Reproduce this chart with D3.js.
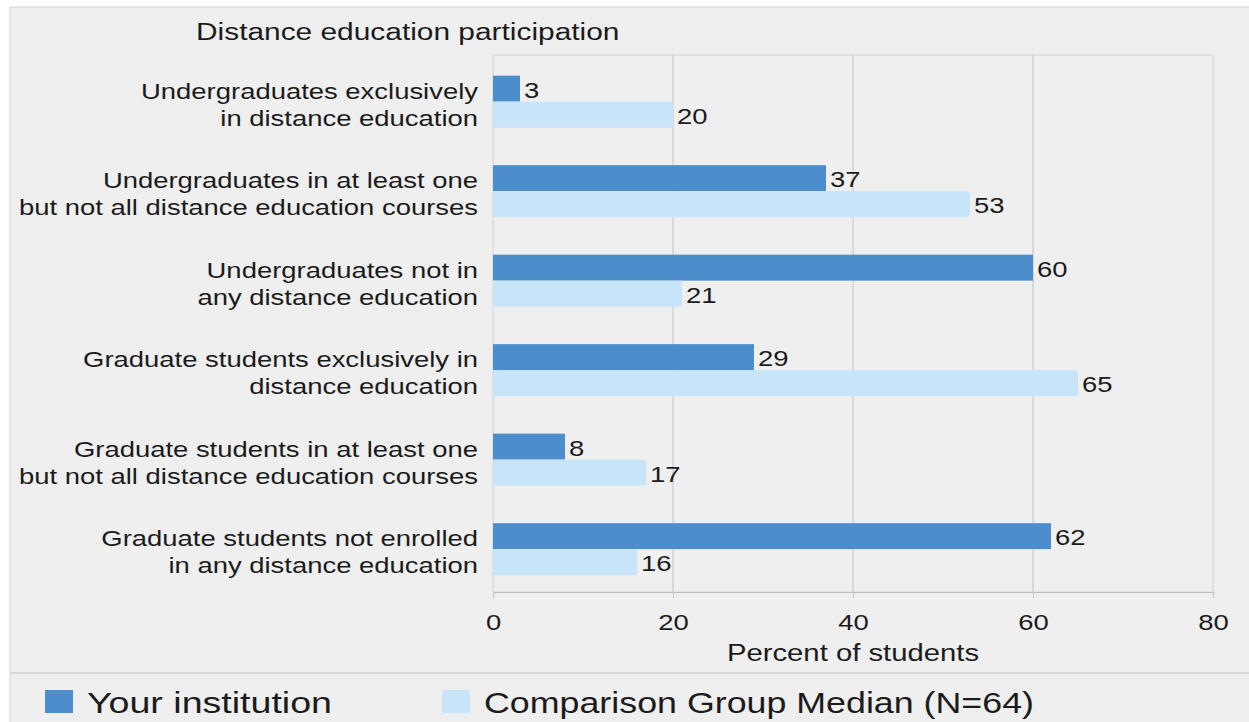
<!DOCTYPE html>
<html>
<head>
<meta charset="utf-8">
<script src="https://cdn.jsdelivr.net/npm/d3@7"></script>
<style>
  body { margin: 0; background: #fff; }
  svg text { font-family: "Liberation Sans", Arial, sans-serif; fill: #1b1b1b; }
  .line { vector-effect: non-scaling-stroke; }
</style>
</head>
<body>
<svg id="chart" width="1249" height="722"></svg>
<script>
// chart data
var categories = [
    ["Undergraduates exclusively", "in distance education"],
    ["Undergraduates in at least one", "but not all distance education courses"],
    ["Undergraduates not in", "any distance education"],
    ["Graduate students exclusively in", "distance education"],
    ["Graduate students in at least one", "but not all distance education courses"],
    ["Graduate students not enrolled", "in any distance education"]
];
var institution = [3, 37, 60, 29, 8, 62];
var comparison = [20, 53, 21, 65, 17, 16];
var xTicks = [0, 20, 40, 60, 80];
var seriesNames = ["Your institution", "Comparison Group Median (N=64)"];
var seriesColors = ["#4c8ecc", "#c7e4f8"];

// the original is a bit stretched sideways, so draw everything in a squeezed group
var S = 1.22;
var plotLeft = 493, plotRight = 1213, plotTop = 55, plotBottom = 592;

var svg = d3.select("#chart");

// grey panel
svg.append("rect")
    .attr("x", 10).attr("y", 7)
    .attr("width", 1260).attr("height", 730)
    .attr("fill", "#efefef")
    .attr("stroke", "#d4d4d4");

svg.append("line")
    .attr("x1", 10).attr("x2", 1249)
    .attr("y1", 673).attr("y2", 673)
    .attr("stroke", "#cfcfcf").attr("stroke-width", 1.5);

var g = svg.append("g").attr("transform", "scale(" + S + ",1)");

var x = d3.scaleLinear()
    .domain([0, 80])
    .range([plotLeft / S, plotRight / S]);

var y = d3.scaleBand()
    .domain(d3.range(categories.length))
    .range([plotTop, plotBottom])
    .paddingInner(0.42)
    .paddingOuter(0.21)
    .align(0.55);

var sub = d3.scaleBand()
    .domain([0, 1])
    .range([0, y.bandwidth()]);

// title
g.append("text")
    .attr("x", 196 / S).attr("y", 40)
    .attr("font-size", 24.5)
    .text("Distance education participation");

// frame + grid
g.append("rect")
    .attr("class", "line")
    .attr("x", x(0)).attr("y", plotTop)
    .attr("width", x(80) - x(0)).attr("height", plotBottom - plotTop)
    .attr("fill", "none")
    .attr("stroke", "#d2d2d2");

g.selectAll(".grid")
    .data([20, 40, 60])
    .enter().append("line")
    .attr("class", "line grid")
    .attr("x1", d => x(d)).attr("x2", d => x(d))
    .attr("y1", plotTop).attr("y2", plotBottom)
    .attr("stroke", "#c4c4c4");

// x axis
var xAxis = g.append("g")
    .attr("transform", "translate(0," + plotBottom + ")")
    .call(d3.axisBottom(x).tickValues(xTicks).tickSize(6).tickPadding(16));
xAxis.select(".domain").attr("class", "domain line").attr("stroke", "#bdbdbd");
xAxis.selectAll(".tick line").attr("class", "line").attr("stroke", "#c4c4c4");
xAxis.selectAll(".tick text")
    .attr("font-size", 22.5)
    .attr("font-family", "Liberation Sans, Arial, sans-serif")
    .attr("fill", "#1b1b1b");

g.append("text")
    .attr("x", (plotLeft + plotRight) / 2 / S).attr("y", 661)
    .attr("text-anchor", "middle")
    .attr("font-size", 24)
    .text("Percent of students");

// category labels
var labels = g.selectAll(".cat")
    .data(categories)
    .enter().append("text")
    .attr("class", "cat")
    .attr("text-anchor", "end")
    .attr("font-size", 22.5);
labels.selectAll("tspan")
    .data((d, i) => d.map(t => ({ t: t, i: i })))
    .enter().append("tspan")
    .attr("x", 478 / S)
    .attr("y", (d, j) => y(d.i) + 23 + j * 27)
    .text(d => d.t);

// bars
var series = [institution, comparison];
series.forEach(function (vals, s) {
    g.selectAll(".bar" + s)
        .data(vals)
        .enter().append("rect")
        .attr("class", "bar" + s)
        .attr("x", x(0))
        .attr("y", (d, i) => y(i) + sub(s))
        .attr("width", d => x(d) - x(0))
        .attr("height", sub.bandwidth())
        .attr("fill", seriesColors[s]);

    g.selectAll(".val" + s)
        .data(vals)
        .enter().append("text")
        .attr("class", "val" + s)
        .attr("x", d => x(d) + 4 / S)
        .attr("y", (d, i) => y(i) + sub(s) + sub.bandwidth() / 2 + 9)
        .attr("font-size", 22.5)
        .text(d => d);
});

// legend
var legendX = [45, 442];
var legendW = [245, 550];
seriesNames.forEach(function (name, s) {
    g.append("rect")
        .attr("x", legendX[s] / S).attr("y", 690)
        .attr("width", 28 / S).attr("height", 23)
        .attr("fill", seriesColors[s]);
    g.append("text")
        .attr("x", (legendX[s] + 42) / S).attr("y", 713)
        .attr("font-size", 30)
        .attr("textLength", legendW[s] / S)
        .attr("lengthAdjust", "spacingAndGlyphs")
        .text(name);
});
</script>
</body>
</html>
